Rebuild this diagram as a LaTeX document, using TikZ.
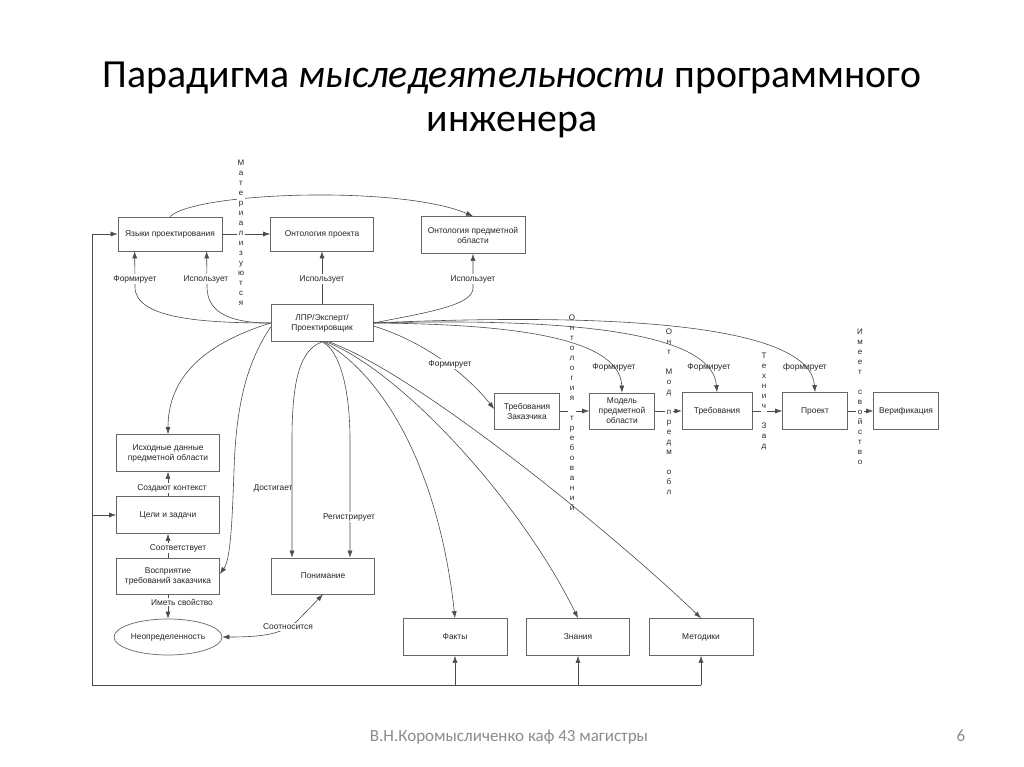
\documentclass[tikz,border=0pt]{standalone}
\usepackage{fontspec}
\setmainfont{Liberation Sans}
\newfontfamily\titlefont{Carlito}
\usetikzlibrary{arrows.meta,shapes.geometric}
\begin{document}
\begin{tikzpicture}[x=1pt,y=-1pt,
 box/.style={draw=black!60, line width=0.7pt, minimum width=#1, minimum height=36pt, align=center, inner sep=1pt, font=\fontsize{8.4}{10}\selectfont, text=black!85},
 box/.default=103pt,
 con/.style={draw=black!70, line width=0.6pt},
 arr/.style={con, -{Latex[length=7pt,width=5pt]}},
 lbl/.style={font=\fontsize{8.4}{10}\selectfont, text=black!85, inner sep=1pt},
 wl/.style={lbl, fill=white},
 vl/.style={font=\fontsize{8}{10}\selectfont, align=center, fill=white, inner sep=1pt, text=black!85}]
\useasboundingbox (0,0) rectangle (1024,767);
\fill[white] (0,0) rectangle (1024,767);

% title and footer
\node[font=\titlefont\fontsize{39.8}{48}\selectfont, anchor=base] (t1) at (512,88) {Парадигма \textit{мыследеятельности} программного};
\node[font=\titlefont\fontsize{39.8}{48}\selectfont, anchor=base] (t2) at (512,132) {инженера};
\node[font=\titlefont\fontsize{17}{20}\selectfont, text=black!45, anchor=base] (ft) at (509,741) {В.Н.Коромысличенко каф 43 магистры};
\node[font=\titlefont\fontsize{17}{20}\selectfont, text=black!45, anchor=base] (pg) at (961,741) {6};

% boxes
\node[box=104pt, minimum height=34pt] (yaz) at (170,234) {Языки проектирования};
\node[box=103pt, minimum height=34pt] (ontp) at (322,234) {Онтология проекта};
\node[box=104pt, minimum height=37pt] (ontpo) at (473,235) {Онтология предметной\\области};
\node[box=102pt, minimum height=37pt] (lpr) at (322,323) {ЛПР/Эксперт/\\Проектировщик};
\node[box=65pt] (trz) at (527,411) {Требования\\Заказчика};
\node[box=65pt] (mod) at (622,411) {Модель\\предметной\\области};
\node[box=70pt, minimum height=37pt] (treb) at (717,411) {Требования};
\node[box=65pt, minimum height=37pt] (proj) at (815,411) {Проект};
\node[box=65pt, minimum height=37pt] (ver) at (906,411) {Верификация};
\node[box, minimum height=37pt] (isx) at (168,453) {Исходные данные\\предметной области};
\node[box, minimum height=37pt] (cel) at (168,515) {Цели и задачи};
\node[box] (vos) at (168,576) {Восприятие\\требований заказчика};
\node[box, ellipse, minimum width=100pt, minimum height=36pt] (neo) at (168,637) {Неопределенность};
\node[box] (pon) at (323,576) {Понимание};
\node[box=104pt, minimum height=37pt] (fak) at (455,637) {Факты};
\node[box, minimum height=37pt] (zna) at (578,637) {Знания};
\node[box=104pt, minimum height=37pt] (met) at (701,637) {Методики};

% feedback loop
\coordinate (lb) at (92,685);
\coordinate (rb) at (701,685);
\draw[arr] (lb) |- (yaz.west);
\draw[arr] (lb |- cel.west) -- (cel.west);
\draw[con] (lb) -- (rb);
\draw[arr] (fak.south |- lb) -- (fak.south);
\draw[arr] (zna.south |- lb) -- (zna.south);
\draw[arr] (met.south |- lb) -- (met.south);

% straight connectors
\draw[arr] (yaz) -- (ontp);
\draw[arr] (lpr) -- (ontp);
\draw[arr] (trz) -- (mod);
\draw[arr] (mod) -- (treb);
\draw[arr] (treb) -- (proj);
\draw[arr] (proj) -- (ver);
\draw[arr] (cel) -- (isx);
\draw[arr] (vos) -- (cel);
\draw[arr] (vos) -- (neo);

% top curve
\draw[arr] (yaz.north) .. controls (195,192) and (400,185) .. (ontpo.north);

% vertical labels
\node[vl] (v1) at (241,233) {М\\а\\т\\е\\р\\и\\а\\л\\и\\з\\у\\ю\\т\\с\\я};
\node[vl] (v2) at (572,413) {О\\н\\т\\о\\л\\о\\г\\и\\я\\~\\т\\р\\е\\б\\о\\в\\а\\н\\и\\й};
\node[vl] (v3) at (669,412) {О\\н\\т\\~\\М\\о\\д\\~\\п\\р\\е\\д\\м\\~\\о\\б\\л};
\node[vl] (v4) at (764,402) {Т\\е\\х\\н\\и\\ч\\~\\З\\а\\д};
\node[vl] (v5) at (860,397) {И\\м\\е\\е\\т\\~\\с\\в\\о\\й\\с\\т\\в\\о};

% curves from LPR
\draw[arr] (lpr.west) .. controls (200,323) and (135,318) .. (135,287) -- ([xshift=17pt]yaz.south west);
\draw[arr] (lpr.west) .. controls (235,323) and (207,315) .. (207,287) -- ([xshift=89pt]yaz.south west);
\draw[arr] (lpr.west) .. controls (200,345) and (168,380) .. (isx.north);
\draw[arr] ([yshift=-4pt]lpr.west) .. controls (245,365) and (236,410) .. (234,470) .. controls (232,530) and (230,560) .. ([yshift=2pt]vos.east);
\draw[arr] (lpr.south) .. controls (300,350) and (292,380) .. (292,440) -- ([xshift=-31pt]pon.north);
\draw[arr] (lpr.south) .. controls (340,350) and (350,390) .. (350,440) -- ([xshift=27pt]pon.north);
\draw[arr] ([xshift=2pt]lpr.south) .. controls (390,380) and (440,480) .. (fak.north);
\draw[arr] ([xshift=4pt]lpr.south) .. controls (400,370) and (520,500) .. (zna.north);
\draw[arr] ([xshift=7pt]lpr.south) .. controls (420,375) and (620,540) .. (met.north);
\draw[arr] ([yshift=-3pt]lpr.east) .. controls (420,340) and (465,372) .. ([yshift=2pt]trz.west);
\draw[arr] (lpr.east) .. controls (430,312) and (473,305) .. (473,288) -- (ontpo.south);
\draw[arr] (lpr.east) .. controls (500,324) and (620,335) .. (mod.north);
\draw[arr] (lpr.east) .. controls (560,318) and (712,330) .. (treb.north);
\draw[arr] (lpr.east) .. controls (620,312) and (810,325) .. (proj.north);
\draw[con, {Latex[length=7pt,width=5pt]}-{Latex[length=7pt,width=5pt]}] (neo.east) .. controls (260,637) and (285,635) .. (300,618) -- (pon.south);

% labels
\node[wl] (l1) at (135,279) {Формирует};
\node[wl] (l2) at (206,279) {Использует};
\node[wl] (l3) at (322,279) {Использует};
\node[wl] (l4) at (473,279) {Использует};
\node[wl] (l5) at (450,364) {Формирует};
\node[lbl] (l6) at (614,367) {Формирует};
\node[lbl] (l7) at (709,367) {Формирует};
\node[lbl] (l8) at (805,367) {формирует};
\node[wl] (l9) at (172,488) {Создают контекст};
\node[wl] (l10) at (178,548) {Соответствует};
\node[wl] (l11) at (182,602) {Иметь свойство};
\node[lbl] (l12) at (273,488) {Достигает};
\node[wl] (l13) at (349,517) {Регистрирует};
\node[wl] (l14) at (288,627) {Соотносится};
\end{tikzpicture}
\end{document}
